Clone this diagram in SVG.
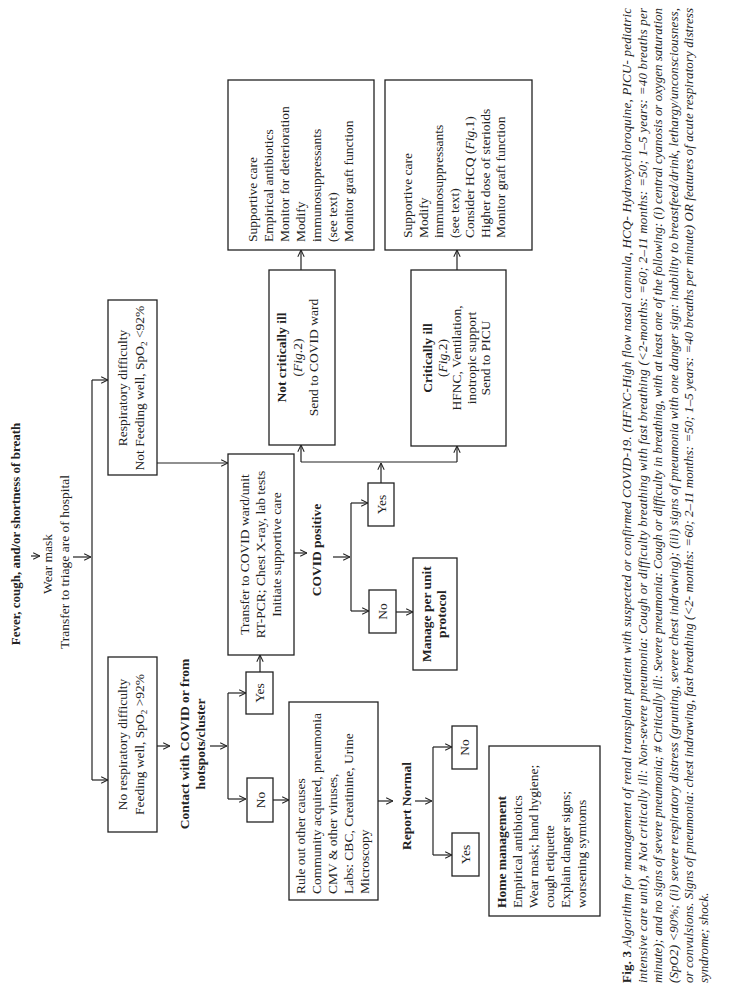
<svg xmlns="http://www.w3.org/2000/svg" width="729" height="990" viewBox="0 0 729 990">
<style>
.b{fill:#fff;stroke:#222;stroke-width:1.3}
.t{font-family:"Liberation Serif","Times New Roman",serif;font-size:13.5px;fill:#222}
.c{text-anchor:middle}
.bd{font-weight:bold}
.l{fill:none;stroke:#222;stroke-width:1.2}
.a{fill:none;stroke:#222;stroke-width:1.2;marker-end:url(#ah)}
.cap{font-family:"Liberation Serif","Times New Roman",serif;font-size:13px;font-style:italic;fill:#222}
</style>
<defs>
<marker id="ah" viewBox="0 0 10 10" refX="9.5" refY="5" markerWidth="8" markerHeight="8" markerUnits="userSpaceOnUse" orient="auto"><path d="M1,1 L9.5,5 L1,9" fill="none" stroke="#222" stroke-width="1.3"/></marker>
</defs>
<rect width="729" height="990" fill="#fff"/>
<g transform="translate(0,990) rotate(-90)">
<g id="connectors">
<path class="a" d="M434,31 L434,40"/>
<path class="a" d="M433,73 L433,91"/>
<path class="l" d="M210,92 L610,92"/>
<path class="a" d="M210,92 L210,108"/>
<path class="a" d="M610,92 L610,108"/>
<path class="a" d="M244,157 L244,170"/>
<path class="a" d="M244,210 L244,227"/>
<path class="l" d="M191,228 L297,228"/>
<path class="a" d="M191,228 L191,246"/>
<path class="a" d="M297,228 L297,246"/>
<path class="a" d="M318,260 L335,260"/>
<path class="a" d="M527,157 L527,228"/>
<path class="a" d="M190,273 L190,289"/>
<path class="a" d="M189,378 L189,393"/>
<path class="a" d="M189,415 L189,432"/>
<path class="l" d="M135,433 L243,433"/>
<path class="a" d="M135,433 L135,452"/>
<path class="a" d="M243,433 L243,452"/>
<path class="a" d="M437,294 L437,307"/>
<path class="a" d="M433,333 L433,350"/>
<path class="l" d="M379,351 L487,351"/>
<path class="a" d="M379,351 L379,369"/>
<path class="a" d="M487,351 L487,368"/>
<path class="a" d="M507,381 L527,381"/>
<path class="l" d="M528,301 L528,457"/>
<path class="a" d="M528,301 L545,301"/>
<path class="a" d="M528,457 L544,457"/>
<path class="a" d="M720,301 L740,301"/>
<path class="a" d="M720,457 L740,457"/>
<path class="a" d="M378,396 L378,413"/>
</g>
<g id="start"><text class="t c bd" x="456" y="20" style="font-size:13px">Fever, cough, and/or shortness of breath</text></g>
<g id="triage"><text class="t c" x="426" y="52">Wear mask</text><text class="t c" x="428" y="69">Transfer to triage are of hospital</text></g>
<g id="resp"><rect class="b" x="515" y="108" width="175" height="49"/>
<text class="t c" x="602" y="127">Respiratory  difficulty</text>
<text class="t c" x="602" y="144">Not Feeding well, SpO<tspan font-size="9" dy="3">2</tspan><tspan dy="-3"> &lt;92%</tspan></text></g>
<g id="noresp"><rect class="b" x="158" y="108" width="175" height="49"/>
<text class="t c" x="245.5" y="127">No respiratory difficulty</text>
<text class="t c" x="245.5" y="144">Feeding well, SpO<tspan font-size="9" dy="3">2</tspan><tspan dy="-3"> &gt;92%</tspan></text></g>
<g id="contact"><text class="t c bd" x="246" y="189">Contact with COVID or from</text><text class="t c bd" x="246" y="205">hotspots/cluster</text></g>
<g id="yes1"><rect class="b" x="276" y="246" width="42" height="27"/><text class="t c" x="297" y="264">Yes</text></g>
<g id="no1"><rect class="b" x="168" y="247" width="44" height="26"/><text class="t c" x="190" y="265">No</text></g>
<g id="transfer"><rect class="b" x="335" y="228" width="201" height="66"/>
<text class="t c" x="435.5" y="249">Transfer to COVID ward/unit</text>
<text class="t c" x="435.5" y="265">RT-PCR; Chest X-ray,  lab tests</text>
<text class="t c" x="435.5" y="281">Initiate supportive care</text></g>
<g id="ruleout"><rect class="b" x="90" y="289" width="198" height="89"/>
<text class="t" x="96" y="305">Rule out other causes</text>
<text class="t" x="96" y="321">Community acquired, pneumonia</text>
<text class="t" x="96" y="337">CMV  &amp; other viruses,</text>
<text class="t" x="96" y="353">Labs: CBC, Creatinine, Urine</text>
<text class="t" x="96" y="369">Microscopy</text></g>
<g id="report"><text class="t c bd" x="184" y="411">Report Normal</text></g>
<g id="no2"><rect class="b" x="221" y="452" width="43" height="25"/><text class="t c" x="242.5" y="469">No</text></g>
<g id="yes2"><rect class="b" x="114" y="452" width="43" height="27"/><text class="t c" x="135.5" y="470">Yes</text></g>
<g id="home"><rect class="b" x="74" y="489" width="170" height="111"/>
<text class="t bd" x="82" y="506">Home  management</text>
<text class="t" x="82" y="522">Empirical antibiotics</text>
<text class="t" x="82" y="538">Wear mask; hand hygiene;</text>
<text class="t" x="82" y="554">cough etiquette</text>
<text class="t" x="82" y="570">Explain danger signs;</text>
<text class="t" x="82" y="586">worsening symtoms</text></g>
<g id="covidpos"><text class="t c bd" x="440" y="321">COVID positive</text></g>
<g id="yes3"><rect class="b" x="464" y="368" width="43" height="26"/><text class="t c" x="485.5" y="386">Yes</text></g>
<g id="no3"><rect class="b" x="357" y="369" width="43" height="27"/><text class="t c" x="378.5" y="387">No</text></g>
<g id="manage"><rect class="b" x="320" y="413" width="112" height="44"/>
<text class="t c bd" x="376" y="431">Manage per unit</text><text class="t c bd" x="376" y="446">protocol</text></g>
<g id="notcrit"><rect class="b" x="545" y="269" width="175" height="66"/>
<text class="t c bd" x="632.5" y="286">Not  critically ill</text>
<text class="t c" x="632.5" y="302">(<tspan font-style="italic">Fig</tspan>.2)</text>
<text class="t c" x="632.5" y="318">Send to COVID ward</text></g>
<g id="crit"><rect class="b" x="544" y="411" width="176" height="95"/>
<text class="t c bd" x="632" y="432">Critically ill</text>
<text class="t c" x="632" y="447">(<tspan font-style="italic">Fig</tspan>.2)</text>
<text class="t c" x="632" y="461">HFNC, Ventilation,</text>
<text class="t c" x="632" y="476">inotropic support</text>
<text class="t c" x="632" y="490">Send to PICU</text></g>
<g id="care1"><rect class="b" x="740" y="228" width="170" height="146"/>
<text class="t" x="748" y="257">Supportive care</text>
<text class="t" x="748" y="273">Empirical antibiotics</text>
<text class="t" x="748" y="289">Monitor for deterioration</text>
<text class="t" x="748" y="305">Modify</text>
<text class="t" x="748" y="321">immunosuppressants</text>
<text class="t" x="748" y="337">(see text)</text>
<text class="t" x="748" y="353">Monitor  graft  function</text></g>
<g id="care2"><rect class="b" x="740" y="385" width="170" height="147"/>
<text class="t" x="752" y="412">Supportive care</text>
<text class="t" x="752" y="427.5">Modify</text>
<text class="t" x="752" y="443">immunosuppressants</text>
<text class="t" x="752" y="458.5">(see text)</text>
<text class="t" x="752" y="474">Consider HCQ (<tspan font-style="italic">Fig</tspan>.1)</text>
<text class="t" x="752" y="489.5">Higher dose of sterioids</text>
<text class="t" x="752" y="505">Monitor graft function</text></g>
<g id="caption">
<text class="cap" x="7" y="631" textLength="975" lengthAdjust="spacing"><tspan font-weight="bold" font-style="normal">Fig. 3</tspan> Algorithm for management of renal transplant patient with suspected or confirmed COVID-19. (HFNC-High flow nasal cannula, HCQ- Hydroxychloroquine, PICU- pediatric</text>
<text class="cap" x="7" y="647" textLength="975" lengthAdjust="spacing">intensive care unit), # Not critically ill: Non-severe pneumonia: Cough or difficulty breathing with fast breathing (&lt;2-months: =60; 2–11 months: =50; 1–5 years: =40 breaths per</text>
<text class="cap" x="7" y="662" textLength="975" lengthAdjust="spacing">minute); and no signs of severe pneumonia; # Critically ill: Severe pneumonia: Cough or difficulty in breathing, with at least one of the following: (i) central cyanosis or oxygen saturation</text>
<text class="cap" x="7" y="678" textLength="975" lengthAdjust="spacing">(SpO2) &lt;90%; (ii) severe respiratory distress (grunting, severe chest indrawing); (iii) signs of pneumonia with one danger sign: inability to breastfeed/drink, lethargy/unconsciousness,</text>
<text class="cap" x="7" y="693" textLength="975" lengthAdjust="spacing">or convulsions. Signs of pneumonia: chest indrawing, fast breathing (&lt;2- months: =60; 2–11 months: =50; 1–5 years: =40 breaths per minute) OR features of acute respiratory distress</text>
<text class="cap" x="7" y="708">syndrome; shock.</text>
</g>
</g>
</svg>
